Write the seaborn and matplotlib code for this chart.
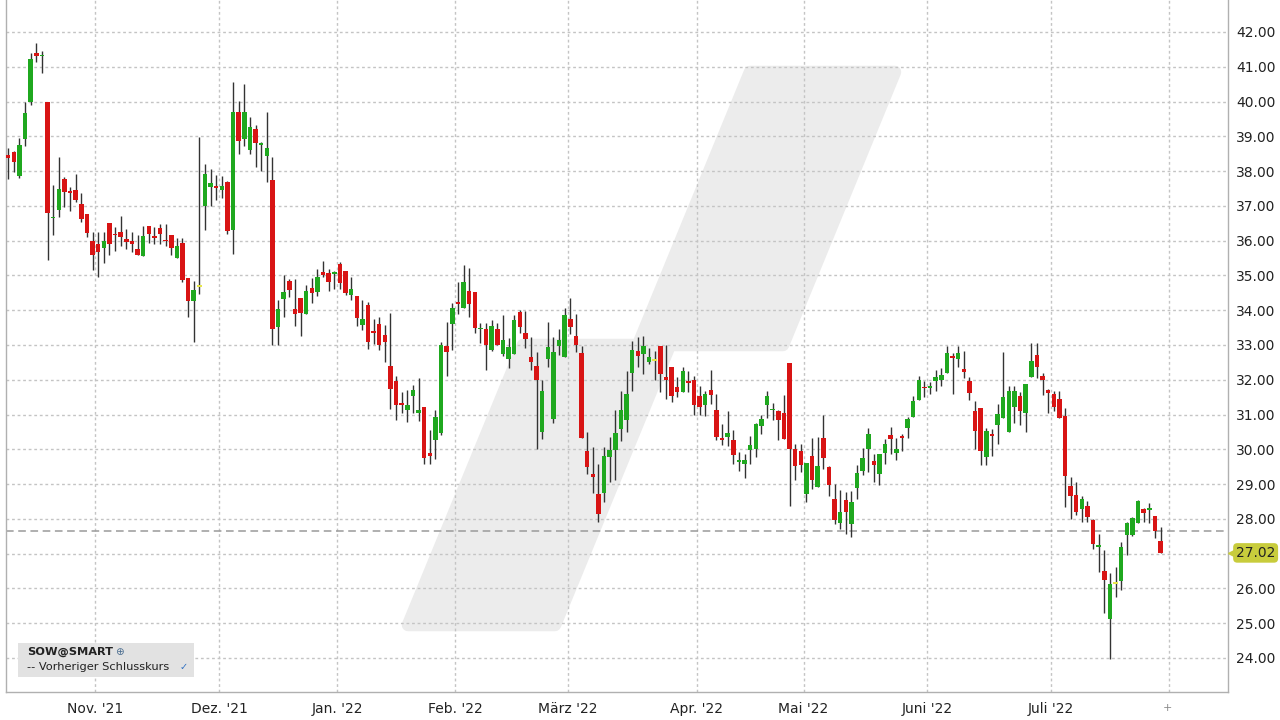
import matplotlib
matplotlib.use("Agg")
import matplotlib.pyplot as plt
import matplotlib.transforms as mtransforms
from matplotlib.patches import Polygon, Rectangle
import seaborn as sns
import numpy as np

# daily candles SOW@SMART, 08.10.2021 - 28.07.2022
opens = [38.45, 38.55, 37.87, 38.91, 40.00, 41.40, 41.30, 39.99, 36.64, 36.88,
         37.77, 37.42, 37.45, 37.05, 36.77, 36.00, 35.90, 35.79, 36.51, 36.18,
         36.26, 36.04, 35.99, 35.77, 35.56, 36.42, 36.14, 36.37, 36.02, 36.17,
         35.50, 35.92, 34.92, 34.25, 34.67, 37.00, 37.55, 37.54, 37.47, 37.69,
         36.30, 39.69, 38.92, 38.62, 39.22, 38.76, 38.44, 37.74, 33.53, 34.31,
         34.83, 34.04, 34.35, 33.88, 34.65, 34.52, 35.10, 35.07, 35.04, 35.32,
         35.14, 34.43, 34.41, 33.56, 34.14, 33.40, 33.61, 33.28, 32.39, 31.96,
         31.30, 31.12, 31.53, 31.04, 31.22, 29.88, 30.26, 30.47, 32.96, 33.59,
         34.23, 34.07, 34.55, 34.52, 33.45, 33.47, 32.86, 33.45, 32.73, 32.60,
         32.74, 33.96, 33.33, 32.64, 32.40, 30.51, 32.60, 30.88, 32.96, 32.66,
         33.74, 33.26, 32.78, 29.95, 29.28, 28.70, 28.74, 29.78, 29.99, 30.59,
         30.83, 32.19, 32.84, 32.74, 32.50, 32.55, 32.98, 32.09, 32.38, 31.80,
         31.64, 31.92, 32.00, 31.52, 31.26, 31.71, 31.12, 30.30, 30.35, 30.28,
         29.63, 29.59, 29.99, 30.02, 30.66, 31.26, 31.12, 31.09, 31.04, 32.47,
         30.00, 29.94, 28.71, 29.80, 28.92, 30.33, 29.49, 28.58, 27.89, 28.55,
         27.84, 28.90, 29.38, 30.00, 29.66, 29.30, 29.89, 30.40, 29.90, 30.38,
         30.61, 30.92, 31.42, 31.78, 31.76, 31.97, 31.99, 32.19, 32.66, 32.60,
         32.31, 31.95, 31.09, 31.18, 29.79, 30.41, 30.71, 30.90, 30.49, 31.21,
         31.54, 31.04, 32.09, 32.72, 32.12, 31.71, 31.59, 31.45, 30.97, 28.93,
         28.69, 28.29, 28.38, 27.97, 27.20, 26.50, 25.13, 26.13, 26.21, 27.53,
         27.54, 27.88, 28.28, 28.24, 28.09, 27.35]
highs = [38.65, 38.58, 38.94, 40.00, 41.40, 41.67, 41.45, 40.00, 37.60, 38.41,
         37.84, 37.55, 37.91, 37.38, 36.77, 36.26, 36.26, 36.24, 36.51, 36.40,
         36.71, 36.33, 36.26, 36.17, 36.43, 36.42, 36.40, 36.49, 36.49, 36.17,
         36.07, 36.09, 34.92, 34.85, 38.97, 38.19, 38.07, 37.90, 37.85, 37.71,
         40.57, 40.01, 40.50, 39.56, 39.32, 38.84, 39.69, 38.41, 34.28, 35.00,
         34.91, 34.91, 34.35, 34.71, 34.92, 35.19, 35.40, 35.19, 35.14, 35.38,
         35.14, 34.95, 34.41, 34.28, 34.23, 33.74, 33.80, 33.56, 33.92, 32.12,
         31.65, 31.70, 31.84, 32.06, 31.22, 30.55, 31.14, 33.08, 33.66, 34.20,
         34.81, 35.29, 35.22, 34.52, 33.63, 33.63, 33.71, 33.63, 33.85, 33.20,
         33.87, 34.00, 33.98, 33.24, 32.79, 31.98, 33.65, 33.24, 33.46, 34.06,
         34.36, 33.89, 32.98, 30.49, 30.06, 29.59, 30.07, 30.35, 31.12, 31.69,
         32.26, 33.11, 33.24, 33.27, 32.91, 32.84, 32.98, 33.00, 32.38, 32.07,
         32.38, 32.26, 32.12, 31.83, 31.69, 32.28, 31.59, 30.73, 31.09, 30.56,
         29.92, 29.87, 30.38, 30.75, 31.00, 31.67, 31.33, 31.12, 31.57, 32.47,
         30.16, 30.16, 29.61, 30.33, 30.35, 31.00, 29.51, 29.01, 28.82, 28.77,
         28.79, 29.56, 30.05, 30.62, 29.87, 29.87, 30.30, 30.64, 30.33, 30.45,
         30.94, 31.53, 32.12, 31.95, 31.93, 32.28, 32.34, 32.98, 32.76, 32.98,
         32.82, 32.07, 31.40, 31.18, 30.61, 30.58, 31.30, 32.79, 31.83, 31.83,
         31.64, 31.88, 33.05, 33.05, 32.19, 31.74, 31.67, 31.69, 31.19, 29.20,
         29.05, 28.67, 28.51, 28.00, 27.55, 27.09, 26.45, 26.61, 27.33, 27.92,
         28.05, 28.55, 28.31, 28.45, 28.09, 27.76]
lows = [37.77, 37.98, 37.79, 38.72, 39.91, 41.14, 40.83, 35.44, 36.16, 36.69,
        36.98, 36.86, 37.12, 36.55, 36.11, 35.15, 34.95, 35.37, 35.59, 35.71,
        35.85, 35.76, 35.68, 35.60, 35.56, 35.94, 35.90, 35.90, 35.85, 35.59,
        35.50, 34.80, 33.81, 33.09, 34.47, 36.32, 37.00, 37.16, 37.24, 36.18,
        35.63, 38.50, 38.73, 38.50, 38.12, 38.00, 37.69, 32.99, 32.99, 33.80,
        34.38, 33.55, 33.25, 33.88, 34.21, 34.41, 34.95, 34.55, 34.60, 34.62,
        34.43, 34.28, 33.54, 33.42, 32.89, 33.04, 32.85, 32.51, 31.17, 30.84,
        31.03, 30.79, 31.05, 30.81, 29.59, 29.59, 29.73, 30.40, 32.10, 32.86,
        33.90, 34.07, 33.80, 33.34, 33.06, 32.29, 32.84, 32.99, 32.67, 32.34,
        32.74, 33.34, 32.91, 32.28, 30.02, 30.30, 32.36, 30.75, 32.72, 32.66,
        33.31, 32.79, 30.33, 29.30, 28.73, 27.92, 28.49, 29.06, 29.11, 30.24,
        30.50, 31.69, 32.36, 32.17, 32.44, 32.00, 31.64, 31.45, 31.36, 31.50,
        31.64, 31.64, 30.99, 31.00, 30.97, 31.29, 30.28, 30.11, 30.08, 29.59,
        29.38, 29.16, 29.57, 29.78, 30.43, 30.91, 30.83, 30.26, 30.30, 28.36,
        29.13, 29.35, 28.49, 28.87, 28.92, 29.44, 28.67, 27.85, 27.72, 27.56,
        27.49, 28.56, 29.25, 29.35, 29.06, 28.97, 29.59, 29.85, 29.70, 29.95,
        30.33, 30.92, 31.42, 31.51, 31.59, 31.69, 31.83, 32.19, 31.59, 32.36,
        32.05, 31.42, 30.00, 29.56, 29.56, 29.82, 30.15, 30.90, 30.49, 30.75,
        30.70, 30.49, 32.09, 32.05, 31.57, 31.04, 31.09, 30.90, 28.34, 28.00,
        28.10, 27.90, 27.90, 27.14, 26.47, 25.29, 23.98, 25.75, 25.96, 26.96,
        27.50, 27.88, 27.92, 27.88, 27.44, 27.02]
closes = [38.38, 38.25, 38.75, 39.68, 41.23, 41.32, 41.34, 36.80, 36.68, 37.49,
          37.40, 37.37, 37.17, 36.61, 36.21, 35.58, 35.68, 35.98, 35.91, 36.15,
          36.11, 35.95, 35.91, 35.60, 36.14, 36.19, 36.09, 36.19, 35.98, 35.78,
          35.86, 34.88, 34.27, 34.59, 34.67, 37.93, 37.66, 37.52, 37.56, 36.27,
          39.69, 38.87, 39.69, 39.27, 38.81, 38.79, 38.65, 33.47, 34.04, 34.52,
          34.57, 33.88, 33.92, 34.54, 34.50, 34.95, 35.00, 34.81, 35.07, 34.78,
          34.49, 34.60, 33.78, 33.76, 33.09, 33.35, 32.99, 33.09, 31.72, 31.27,
          31.28, 31.26, 31.70, 31.14, 29.76, 29.81, 30.93, 32.99, 32.80, 34.07,
          34.17, 34.81, 34.17, 33.50, 33.47, 32.99, 33.55, 33.01, 33.15, 32.95,
          33.71, 33.53, 33.17, 32.50, 32.00, 31.69, 32.95, 32.79, 33.14, 33.86,
          33.52, 33.00, 30.33, 29.49, 29.21, 28.13, 29.82, 29.97, 30.47, 31.12,
          31.58, 32.86, 32.69, 32.97, 32.65, 32.55, 32.17, 32.00, 31.52, 31.64,
          32.24, 31.90, 31.26, 31.23, 31.59, 31.55, 30.35, 30.27, 30.48, 29.83,
          29.66, 29.68, 30.13, 30.72, 30.88, 31.52, 31.15, 30.85, 30.30, 30.02,
          29.51, 29.54, 29.61, 29.11, 29.51, 29.76, 28.98, 27.96, 28.20, 28.20,
          28.47, 29.33, 29.76, 30.43, 29.54, 29.85, 30.16, 30.30, 30.02, 30.32,
          30.87, 31.40, 31.98, 31.75, 31.78, 32.09, 32.15, 32.76, 32.62, 32.76,
          32.21, 31.61, 30.52, 29.94, 30.52, 30.39, 31.02, 31.49, 31.69, 31.69,
          31.11, 31.88, 32.55, 32.38, 31.99, 31.61, 31.23, 30.90, 29.23, 28.67,
          28.19, 28.56, 28.05, 27.28, 27.24, 26.25, 26.13, 26.13, 27.20, 27.87,
          28.02, 28.50, 28.16, 28.31, 27.66, 27.02]

month_labels = ["Nov. '21", "Dez. '21", "Jan. '22", "Feb. '22", "März '22",
                "Apr. '22", "Mai '22", "Juni '22", "Juli '22", ""]
month_starts = [16, 38, 59, 80, 100, 123, 142, 164, 186, 207]
price_ticks = list(range(24, 43))

sns.set_theme(style="white")
plt.rcParams['font.family'] = ['DejaVu Sans']

o = np.array(opens)
h = np.array(highs)
l = np.array(lows)
c = np.array(closes)
x = np.arange(len(o))

fig = plt.figure(figsize=(12.8, 7.2), dpi=100)
ax = fig.add_axes([6 / 1280, 28 / 720, 1222 / 1280, 692 / 720])
ax.set_facecolor("white")

# watermark logo behind the chart
logo_px = [(408, 625), (555, 625), (670, 345), (783, 345),
           (895, 72), (750, 72), (638, 345), (523, 345)]
logo = [((px - 6) / 1222, (692 - py) / 692) for px, py in logo_px]
ax.add_patch(Polygon(logo, closed=True, transform=ax.transAxes,
                     facecolor="#ececec", edgecolor="#ececec", lw=9,
                     joinstyle="round", zorder=0))

# grid
for p in price_ticks:
    ax.axhline(p, color="#c4c4c4", lw=1, ls=(0, (2, 2)), zorder=1)
for m in month_starts:
    ax.axvline(m - 0.5, color="#c4c4c4", lw=1, ls=(0, (2, 2)), zorder=1)

# previous close
ax.axhline(c[-2], color="#9a9a9a", lw=1.1, ls=(0, (5, 3)), zorder=2)

# candles
cols = np.where(c > o, "#1fa81f", np.where(c < o, "#d81414", "#e6e64a"))
ax.vlines(x, l, h, color="#333333", lw=1, zorder=3)
body_lo = np.minimum(o, c)
body_h = np.maximum(np.abs(c - o), 0.05)
ax.bar(x, body_h, bottom=body_lo, width=0.8, color=cols, linewidth=0, zorder=4)

ax.set_xlim(-0.4, 217)
ax.set_ylim(23.02, 42.92)

ax.yaxis.tick_right()
ax.set_yticks(price_ticks)
ax.set_yticklabels(["" if p == 27 else f"{p:.2f}" for p in price_ticks])
ax.tick_params(axis="y", length=0, pad=6, labelsize=10, labelcolor="#222222")
ax.set_xticks([m - 0.5 for m in month_starts])
ax.set_xticklabels(month_labels)
ax.tick_params(axis="x", length=0, pad=7, labelsize=10, labelcolor="#222222")

for s in ["left", "right", "bottom"]:
    ax.spines[s].set_color("#b0b0b0")
    ax.spines[s].set_linewidth(1)
ax.spines["top"].set_visible(False)

# last price marker
tr = mtransforms.blended_transform_factory(ax.transAxes, ax.transData)
ax.text(1.0065, c[-1], f"{c[-1]:.2f}", transform=tr, ha="left", va="center",
        fontsize=10, color="#222222", clip_on=False,
        bbox=dict(boxstyle="round,pad=0.2,rounding_size=0.3", fc="#c8cc3c", ec="none"))
ax.plot([1.0035], [c[-1]], marker="<", ms=6, color="#c8cc3c", transform=tr,
        clip_on=False, zorder=5)

# small marker under the last gridline
fig.text(1167 / 1280, 1 - 708 / 720, "+", ha="center", va="center",
         fontsize=8, color="#888888")

# legend box
fig.patches.append(Rectangle((18 / 1280, 1 - 677 / 720), 176 / 1280, 34 / 720,
                             transform=fig.transFigure, facecolor="#e2e2e2",
                             edgecolor="none", zorder=5))
fig.text(27 / 1280, 1 - 652 / 720, "SOW@SMART", fontsize=8.2, fontweight="bold",
         color="#222222", va="center", zorder=6)
fig.text(115 / 1280, 1 - 652 / 720, "\u2295", fontsize=7.5, color="#4d6f91",
         va="center", zorder=6)
fig.text(27 / 1280, 1 - 667 / 720, "-- Vorheriger Schlusskurs", fontsize=8.2,
         color="#222222", va="center", zorder=6)
fig.text(180 / 1280, 1 - 667 / 720, "\u2713", fontsize=7, color="#2f6fc0",
         va="center", zorder=6)

fig.savefig("out.png", dpi=100)
